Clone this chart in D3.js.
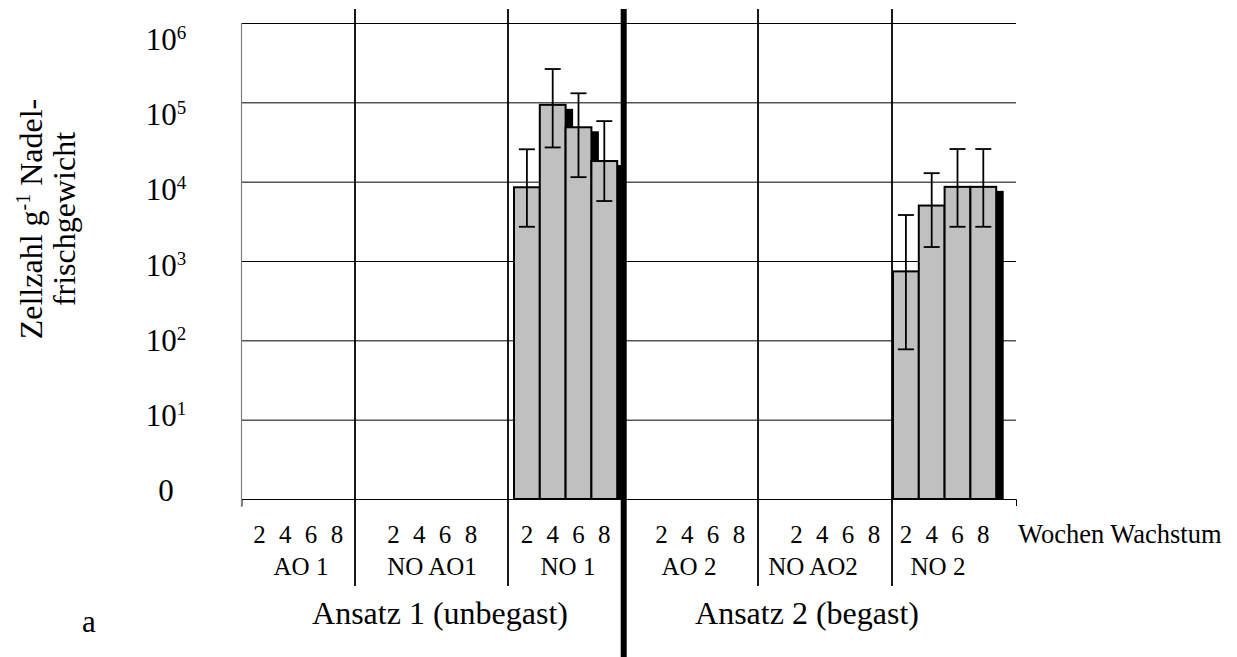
<!DOCTYPE html>
<html>
<head>
<meta charset="utf-8">
<script src="https://cdn.jsdelivr.net/npm/d3@7"></script>
<style>
  body { margin: 0; background: #fff; }
  svg { display: block; }
  text, tspan { font-family: "Liberation Serif", "Times New Roman", serif; fill: #000; }
</style>
</head>
<body>
<svg id="chart" width="1237" height="657" font-family="Liberation Serif, Times New Roman, serif"></svg>
<script>
// ---- data ----
const weeks = [2, 4, 6, 8];
const groups = ["AO 1", "NO AO1", "NO 1", "AO 2", "NO AO2", "NO 2"];
const ansatzLabels = ["Ansatz 1 (unbegast)", "Ansatz 2 (begast)"];
const yTickValues = [1, 10, 100, 1e3, 1e4, 1e5, 1e6];

// cell counts per g needle fresh weight (0 = none detected)
const meanAO1   = [0, 0, 0, 0];
const meanNOAO1 = [0, 0, 0, 0];
const meanNO1   = [8500, 93000, 48500, 18200];
const lowNO1    = [2700, 27000, 11400, 5700];
const highNO1   = [25600, 263000, 130000, 58000];
const meanAO2   = [0, 0, 0, 0];
const meanNOAO2 = [0, 0, 0, 0];
const meanNO2   = [740, 5000, 8600, 8600];
const lowNO2    = [77, 1500, 2700, 2700];
const highNO2   = [3800, 12800, 25800, 25800];

const means = [meanAO1, meanNOAO1, meanNO1, meanAO2, meanNOAO2, meanNO2];
const lows  = [null, null, lowNO1, null, null, lowNO2];
const highs = [null, null, highNO1, null, null, highNO2];

// ---- layout ----
const plot = { left: 241.5, right: 1016, top: 23, bottom: 499 };
const groupBandStart = [246.6, 380.6, 514, 648.6, 783.6, 893];
const slotWidth = 25.8;
const groupLabelX = [301, 432, 568, 689, 813, 938];
const ansatzLabelX = [440, 807];
const thinSeparators = [355, 508, 758, 892];
const heavySeparator = 623.7;
const shadow = { dx: 7.5, dy: 4 };

const svg = d3.select("#chart");

const y = d3.scaleLog().domain([1, 1e6]).range([plot.bottom, plot.top]);
// tick labels sit on a slightly tighter ladder than the gridlines
const yLabel = d3.scaleLog().domain([1, 1e6]).range([490, 39]);

const bands = groupBandStart.map(s =>
  d3.scaleBand().domain(weeks).range([s, s + 4 * slotWidth]).paddingInner(0).paddingOuter(0));

// gridlines
svg.append("g")
  .attr("transform", `translate(${plot.left},0)`)
  .call(d3.axisLeft(y).tickValues(yTickValues.slice(1))
        .tickSize(-(plot.right - plot.left)).tickFormat(""))
  .call(g => g.select(".domain").remove())
  .selectAll("line").attr("stroke", "#000").attr("stroke-width", 1);

// category axis baseline with end ticks
const xFrame = d3.scaleLinear().domain([0, 1]).range([plot.left, plot.right]);
svg.append("g")
  .attr("transform", `translate(0,${plot.bottom})`)
  .call(d3.axisBottom(xFrame).tickValues([]).tickSizeOuter(7))
  .select(".domain").attr("stroke", "#000").attr("stroke-width", 1);

// value axis line
svg.append("line")
  .attr("x1", plot.left).attr("x2", plot.left)
  .attr("y1", plot.top).attr("y2", plot.bottom + 8)
  .attr("stroke", "#808080").attr("stroke-width", 1.2);

// value tick labels
const tl = svg.append("g").selectAll("text").data(yTickValues).join("text")
  .attr("x", 166)
  .attr("y", d => yLabel(d) + 11)
  .attr("text-anchor", "middle")
  .style("font-size", "31px");
tl.each(function(d) {
  const t = d3.select(this);
  if (d === 1) { t.text("0"); return; }
  t.append("tspan").text("10");
  t.append("tspan").attr("dy", -11).style("font-size", "19px").text(Math.round(Math.log10(d)));
});

// y title
const yt = svg.append("g").attr("transform", "translate(0,219) rotate(-90)");
const l1 = yt.append("text").attr("x", 0).attr("y", 41.5)
  .attr("text-anchor", "middle").style("font-size", "32px");
l1.append("tspan").text("Zellzahl g");
l1.append("tspan").attr("dy", -12).style("font-size", "20px").text("-1");
l1.append("tspan").attr("dy", 12).text(" Nadel-");
yt.append("text").attr("x", 0).attr("y", 75)
  .attr("text-anchor", "middle").style("font-size", "32px").text("frischgewicht");

// bar records
const rows = [];
groups.forEach((g, gi) => {
  weeks.forEach((w, wi) => {
    rows.push({ gi, w, v: means[gi][wi],
      lo: lows[gi] ? lows[gi][wi] : null,
      hi: highs[gi] ? highs[gi][wi] : null });
  });
});
const drawn = rows.filter(r => r.v > 0);

// depth shading behind bars
svg.append("g").selectAll("rect").data(drawn).join("rect")
  .attr("x", r => bands[r.gi](r.w) + shadow.dx)
  .attr("y", r => y(r.v) + shadow.dy)
  .attr("width", r => bands[r.gi].bandwidth())
  .attr("height", r => y(1) - y(r.v) - shadow.dy)
  .attr("fill", "#000");

// bars
svg.append("g").selectAll("rect").data(drawn).join("rect")
  .attr("x", r => bands[r.gi](r.w))
  .attr("y", r => y(r.v))
  .attr("width", r => bands[r.gi].bandwidth())
  .attr("height", r => y(1) - y(r.v))
  .attr("fill", "#c0c0c0")
  .attr("stroke", "#000").attr("stroke-width", 2);

// error bars
const eb = svg.append("g").attr("stroke", "#000").attr("stroke-width", 1.8)
  .selectAll("g").data(drawn.filter(r => r.lo != null)).join("g")
  .attr("transform", r => `translate(${bands[r.gi](r.w) + bands[r.gi].bandwidth() / 2},0)`);
eb.append("line").attr("y1", r => y(r.hi)).attr("y2", r => y(r.lo));
eb.append("line").attr("x1", -8).attr("x2", 8).attr("y1", r => y(r.hi)).attr("y2", r => y(r.hi));
eb.append("line").attr("x1", -8).attr("x2", 8).attr("y1", r => y(r.lo)).attr("y2", r => y(r.lo));

// separators
svg.append("g").selectAll("line").data(thinSeparators).join("line")
  .attr("x1", d => d).attr("x2", d => d).attr("y1", 9).attr("y2", 586)
  .attr("stroke", "#000").attr("stroke-width", 1.8);
svg.append("line")
  .attr("x1", heavySeparator).attr("x2", heavySeparator).attr("y1", 9).attr("y2", 657)
  .attr("stroke", "#000").attr("stroke-width", 6);

// week labels
groups.forEach((g, gi) => {
  svg.append("g").selectAll("text").data(weeks).join("text")
    .attr("x", w => bands[gi](w) + bands[gi].bandwidth() / 2)
    .attr("y", 543)
    .attr("text-anchor", "middle")
    .style("font-size", "25px")
    .text(w => w);
});
svg.append("text").attr("x", 1018).attr("y", 543)
  .style("font-size", "26.5px").text("Wochen Wachstum");

// group labels
svg.append("g").selectAll("text").data(groups).join("text")
  .attr("x", (d, i) => groupLabelX[i]).attr("y", 575)
  .attr("text-anchor", "middle").style("font-size", "25px")
  .text(d => d);

// experiment labels
svg.append("g").selectAll("text").data(ansatzLabels).join("text")
  .attr("x", (d, i) => ansatzLabelX[i]).attr("y", 624)
  .attr("text-anchor", "middle").style("font-size", "32px")
  .text(d => d);

// panel letter
svg.append("text").attr("x", 82).attr("y", 632).style("font-size", "31px").text("a");
</script>
</body>
</html>
